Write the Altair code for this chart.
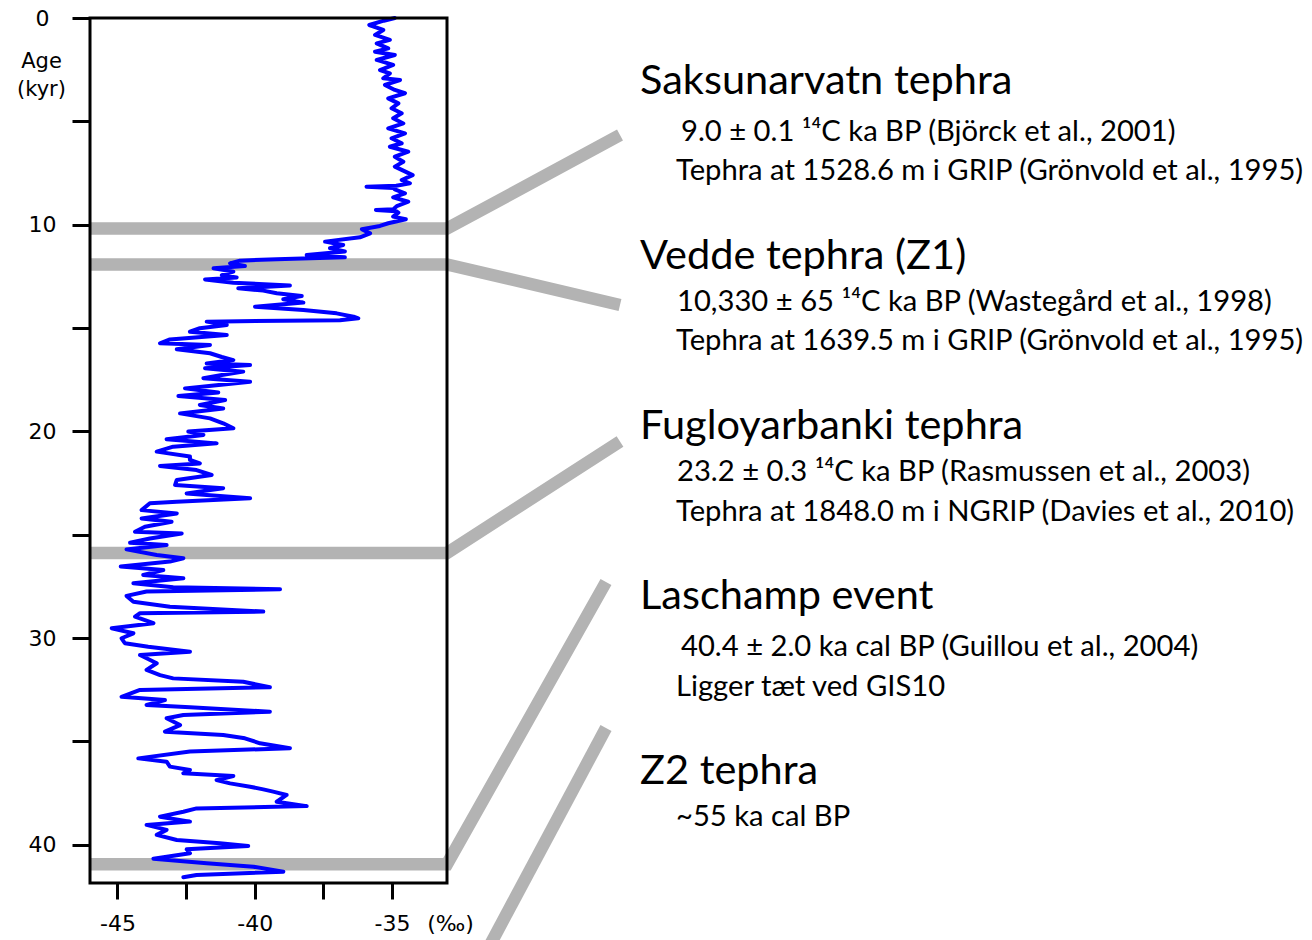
import altair as alt
import pandas as pd

# ---------------- data ----------------
# delta-18O record: age (kyr) and value (permil)
age_kyr = [
    0.00, 0.13, 0.34, 0.58, 0.82, 1.06, 1.23, 1.47, 1.63, 1.79, 2.03, 2.27, 2.52, 2.68, 2.92,
    3.00, 3.24, 3.48, 3.64, 3.89, 4.13, 4.37, 4.61, 4.85, 5.10, 5.34, 5.58, 5.82, 6.06, 6.23,
    6.47, 6.71, 6.95, 7.19, 7.35,
    7.60, 7.84, 8.00, 8.12, 8.16, 8.22, 8.29, 8.48, 8.68, 8.89, 9.10, 9.25, 9.29, 9.35, 9.42,
    9.61, 9.74, 9.93, 10.06, 10.22, 10.42, 10.61, 10.82, 10.98, 11.14, 11.30, 11.47, 11.58,
    11.67, 11.74, 11.87, 12.00, 12.11, 12.27, 12.44, 12.55, 12.65, 12.81, 12.94, 13.08, 13.19,
    13.32, 13.45, 13.61, 13.77, 13.97, 14.13, 14.29, 14.45, 14.53, 14.62, 14.69,
    14.85, 15.01, 15.18, 15.34, 15.55, 15.74, 15.82, 16.03, 16.22, 16.40, 16.55, 16.71, 16.79,
    16.95, 17.11, 17.27, 17.43, 17.60, 17.92, 18.12, 18.29, 18.48, 18.72, 18.89, 19.13, 19.37,
    19.61, 19.85, 20.01, 20.17, 20.38, 20.58, 20.74, 20.98, 21.22, 21.38, 21.55, 21.67, 21.87,
    22.11, 22.35, 22.59, 22.75, 23.00, 23.24, 23.40, 23.48, 23.81, 23.97, 24.21, 24.37, 24.61,
    24.86, 24.94, 25.18, 25.39, 25.50, 25.71, 25.98, 26.14, 26.30, 26.54, 26.71, 26.95, 27.11,
    27.35, 27.54, 27.64, 27.75, 27.96, 28.24, 28.48, 28.72, 28.80,
    28.96, 29.28, 29.53, 29.77, 30.01, 30.25, 30.42, 30.66, 30.82, 31.22, 31.54, 31.79, 31.95,
    32.11, 32.38, 32.51, 32.84, 33.00, 33.24, 33.35, 33.56, 33.72, 33.88, 34.21, 34.53, 34.69,
    34.85, 35.09, 35.33, 35.49, 35.82, 35.98, 36.22,
    36.38, 36.54, 36.67, 36.87, 37.03, 37.19, 37.32, 37.43, 37.59, 37.92, 38.13, 38.24, 38.40,
    38.64, 38.88, 39.04, 39.28, 39.52, 39.77, 39.93, 40.06, 40.22, 40.41, 40.68, 40.89, 41.06,
    41.30, 41.46, 41.57,
]
d18o = [
    -34.90, -35.30, -35.83, -35.32, -35.62, -35.08, -35.56, -35.14, -35.62, -34.90, -35.56, -34.96, -35.44, -35.08, -35.32,
    -34.71, -35.26, -34.90, -34.53, -35.14, -34.77, -35.02, -34.65, -34.96, -34.59, -35.14, -34.53, -35.02, -34.65, -35.08,
    -34.41, -34.90, -34.59, -34.90, -34.65,
    -34.25, -34.65, -34.35, -34.85, -35.93, -34.95, -34.90, -34.53, -34.96, -34.41, -34.83, -34.95, -35.59, -34.85, -34.77,
    -34.96, -34.50, -35.14, -35.44, -36.10, -35.80, -36.17, -37.44, -36.78, -37.26, -36.72, -38.11, -36.72,
    -39.20, -40.54, -40.90, -40.36, -41.50, -40.78, -41.20, -40.66, -41.81, -40.78, -38.72, -40.60, -39.69,
    -39.20, -38.29, -38.96, -38.23, -39.99, -38.23, -37.02, -36.40, -36.23, -36.90, -41.75,
    -41.02, -42.00, -42.36, -41.02, -43.09, -43.45, -41.63, -42.84, -41.63, -41.20, -40.78, -41.75, -40.17,
    -41.81, -40.42, -41.20, -41.87, -40.17, -42.54, -41.33, -42.78, -41.08, -42.00, -41.15, -42.72, -41.63,
    -41.15, -40.78, -42.42, -41.87, -43.21, -41.39, -42.97, -43.57, -42.36, -42.36, -42.00, -43.45, -42.12,
    -41.57, -42.84, -42.90, -41.15, -42.48, -40.17, -42.84, -43.82, -44.12, -42.84, -44.12, -43.03, -44.00,
    -44.36, -42.66, -43.82, -44.54, -43.21, -44.67, -43.57, -42.60, -43.09, -44.88, -43.33, -44.06, -42.60,
    -44.42, -42.97, -39.08, -43.94, -44.67, -44.42, -43.09, -39.69, -44.18,
    -44.36, -43.69, -45.21, -44.42, -44.85, -44.73, -43.88, -42.36, -44.18, -43.57, -43.94, -43.45, -42.97,
    -40.42, -39.45, -44.18, -44.85, -43.27, -43.94, -42.36, -39.45, -42.60, -43.21, -42.72, -43.27, -41.15,
    -40.36, -39.81, -38.72, -42.36, -44.24, -43.21, -43.09,
    -42.36, -42.60, -40.78, -41.39, -40.90, -40.17, -39.69, -39.33, -38.84, -39.20, -38.11, -42.12, -42.60,
    -43.45, -42.36, -43.94, -43.21, -43.57, -42.84, -41.27, -40.24, -42.48, -42.36, -43.69, -41.75, -40.05,
    -38.96, -42.12, -42.60,
]

# horizons marked in the core (kyr)
horizon_age = [10.19, 11.92, 25.88, 40.94]

titles = [
    "Saksunarvatn tephra",
    "Vedde tephra (Z1)",
    "Fugloyarbanki tephra",
    "Laschamp event",
    "Z2 tephra",
]
details = [
    ["9.0 ± 0.1 ¹⁴C ka BP (Björck et al., 2001)",
     "Tephra at 1528.6 m i GRIP (Grönvold et al., 1995)"],
    ["10,330 ± 65 ¹⁴C ka BP (Wastegård et al., 1998)",
     "Tephra at 1639.5 m i GRIP (Grönvold et al., 1995)"],
    ["23.2 ± 0.3 ¹⁴C ka BP (Rasmussen et al., 2003)",
     "Tephra at 1848.0 m i NGRIP (Davies et al., 2010)"],
    ["40.4 ± 2.0 ka cal BP (Guillou et al., 2004)",
     "Ligger tæt ved GIS10"],
    ["~55 ka cal BP"],
]

x_ticks = [-45, -42.5, -40, -37.5, -35]
y_ticks = [0, 5, 10, 15, 20, 25, 30, 35, 40]

# ---------------- layout ----------------
W, H = 357, 865
XMIN, XMAX = -46.0, -33.0
YMAX = 41.85
PAD_L, PAD_T = 82, 10
PAGE = 8


def px_to_d(px):
    return XMIN + (px - PAGE - PAD_L) * (XMAX - XMIN) / W


def py_to_a(py):
    return (py - PAGE - PAD_T) * YMAX / H


title_px_x = 640
title_px_y = [82, 257, 427, 597, 772]
detail_px_x = [[681, 676], [677, 676], [677, 676], [681, 676], [676]]
detail_px_y = [[132, 171], [302, 341], [472, 512], [647, 687], [817]]
conn_end_px = [(620, 135), (620, 305), (620, 441.5), (606, 582)]
z2_conn_px = [(606, 728), (490, 945)]

# ---------------- tables ----------------
curve_df = pd.DataFrame({"age": age_kyr, "d18o": d18o})
curve_df["i"] = range(len(curve_df))

rows = []
for g, (a, (ex, ey)) in enumerate(zip(horizon_age, conn_end_px)):
    rows.append({"g": g, "k": 0, "d18o": XMIN, "age": a})
    rows.append({"g": g, "k": 1, "d18o": XMAX, "age": a})
    rows.append({"g": g, "k": 2, "d18o": px_to_d(ex), "age": py_to_a(ey)})
for k, (ex, ey) in enumerate(z2_conn_px):
    rows.append({"g": 9, "k": k, "d18o": px_to_d(ex), "age": py_to_a(ey)})
conn_df = pd.DataFrame(rows)

title_df = pd.DataFrame({
    "txt": titles,
    "d18o": [px_to_d(title_px_x)] * len(titles),
    "age": [py_to_a(v) for v in title_px_y],
})
drows = []
for lines, xs_, ys_ in zip(details, detail_px_x, detail_px_y):
    for t, xx, yy in zip(lines, xs_, ys_):
        drows.append({"txt": t, "d18o": px_to_d(xx), "age": py_to_a(yy)})
detail_df = pd.DataFrame(drows)

# ---------------- chart ----------------
xs = alt.Scale(domain=[XMIN, XMAX], nice=False, zero=False)
ys = alt.Scale(domain=[0, YMAX], reverse=True, nice=False, zero=False)

AX_FONT = "DejaVu Sans"
x_axis = alt.Axis(
    values=x_ticks,
    labelExpr="datum.value % 5 == 0 ? (datum.value < 0 ? '-' + abs(datum.value) : '' + datum.value) : ''",
    tickSize=16, tickWidth=3, tickColor="black", domain=False, grid=False,
    labelFont=AX_FONT, labelFontSize=22, labelColor="black", labelPadding=14,
    labelFlush=False, labelOverlap=False,
    title="(‰)", titleX=360, titleY=30, titleAlign="center", titleBaseline="top",
    titleFont=AX_FONT, titleFontSize=22, titleFontWeight="normal", titleColor="black",
)
y_axis = alt.Axis(
    values=y_ticks,
    labelExpr="datum.value % 10 == 0 ? datum.label : ''",
    tickSize=18, tickWidth=3, tickColor="black", domain=False, grid=False,
    labelFont=AX_FONT, labelFontSize=22, labelColor="black", labelAlign="center",
    labelPadding=30, labelFlush=False, labelOverlap=False,
    title=["Age", "(kyr)"], titleAngle=0, titleX=-49, titleY=32, titleAlign="center",
    titleBaseline="top", titleFont=AX_FONT, titleFontSize=21, titleFontWeight="normal",
    titleColor="black", titleLineHeight=28,
)


def X():
    return alt.X("d18o:Q", scale=xs, axis=x_axis)


def Y():
    return alt.Y("age:Q", scale=ys, axis=y_axis)


conn = alt.Chart(conn_df).mark_line(
    color="#b3b3b3", strokeWidth=12.5, strokeCap="butt", strokeJoin="miter", clip=False
).encode(x=X(), y=Y(), detail="g:N", order="k:Q")

curve = alt.Chart(curve_df).mark_line(
    color="#0000ff", strokeWidth=4, strokeJoin="round", strokeCap="round"
).encode(x=X(), y=Y(), order="i:Q")

frame = alt.Chart(pd.DataFrame({"f": [0]})).mark_rect(
    filled=False, color="black", strokeWidth=3
).encode(
    x=alt.value(0), x2=alt.value(W), y=alt.value(0), y2=alt.value(H)
)

TXT_FONT = "Lato"
ttl = alt.Chart(title_df).mark_text(
    align="left", baseline="middle", font=TXT_FONT, fontSize=41.5, color="black", clip=False
).encode(x=X(), y=Y(), text="txt:N")

det = alt.Chart(detail_df).mark_text(
    align="left", baseline="middle", font=TXT_FONT, fontSize=29.2, color="black", clip=False
).encode(x=X(), y=Y(), text="txt:N")

chart = alt.layer(conn, curve, frame, ttl, det).properties(
    width=W, height=H,
    autosize=alt.AutoSizeParams(type="none"),
    padding={"left": PAD_L, "top": PAD_T, "right": 1296 - PAD_L - W, "bottom": 57},
).configure_view(strokeWidth=0)

chart.save("out.html", embed_options={"renderer": "svg", "actions": False})
